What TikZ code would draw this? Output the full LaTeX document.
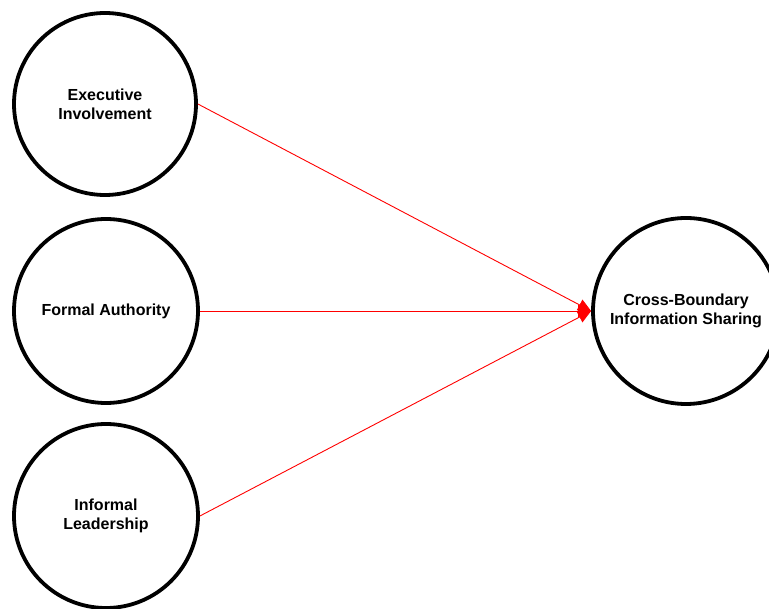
\documentclass[tikz,border=0pt]{standalone}
\usepackage{fontspec}
\setmainfont{Liberation Sans}
\usetikzlibrary{arrows.meta}
\begin{document}
\begin{tikzpicture}[x=1pt,y=-1pt,
  factor/.style={circle,draw=black,line width=3.8pt,fill=white,inner sep=0pt,
    align=center,font=\fontsize{16}{19}\selectfont\bfseries},
  link/.style={draw=red,line width=0.9pt,-{Triangle[length=13pt,width=12pt]}}]
\useasboundingbox (0,0) rectangle (769,609);
\begin{scope}
\clip (0,0) rectangle (769,609);
\node[factor,minimum size=182pt] (exec) at (105,104) {Executive\\Involvement};
\node[factor,minimum size=184pt] (formal) at (106,311) {Formal Authority};
\node[factor,minimum size=184pt] (inform) at (106,516) {Informal\\Leadership};
\node[factor,minimum size=186pt] (cbis) at (686,311) {Cross-Boundary\\Information Sharing};
\end{scope}
\draw[link] (exec.east) -- (cbis.west);
\draw[link] (formal.east) -- (cbis.west);
\draw[link] (inform.east) -- (cbis.west);
\end{tikzpicture}
\end{document}
